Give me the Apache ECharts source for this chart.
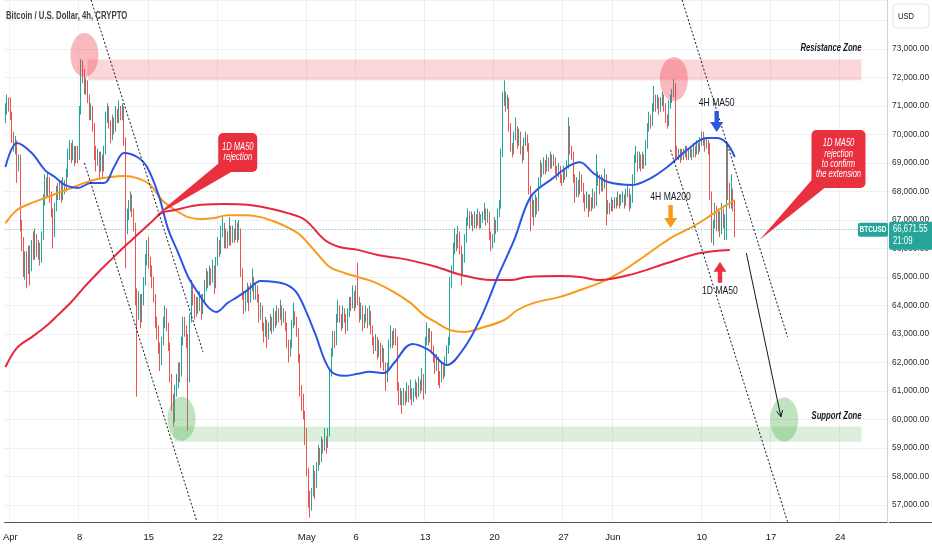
<!DOCTYPE html>
<html><head><meta charset="utf-8">
<script src="https://cdn.jsdelivr.net/npm/echarts@6/dist/echarts.min.js"></script>
<style>html,body{margin:0;padding:0;background:#fff}#c{width:932px;height:550px}</style>
</head><body><div id="c"></div>
<script>
// ---------- DATA (BTCUSD 4h, [open, close, low, high]) ----------
const ohlcMarApr = [
[70600,70900,70400,71100],[70900,71200,70700,71400],[71200,71000,70800,71300],
[71000,70700,70500,71300],[70700,69900,69700,70800],[69900,69600,69400,70100],[69600,69700,69300,69950],[69700,68900,68300,69800],[68900,69100,68700,69300],
[69100,66800,66600,69300],[66800,66200,65900,67000],[66200,65400,65000,66400],[65400,65700,64900,65900],[65700,65300,64600,65900],[65300,65900,65100,66100],
[65900,65400,64700,66100],[65400,66100,65200,66300],[66100,65800,65600,66600],[65800,66300,65600,66700],[66300,65900,65700,66500],[65900,66000,65600,66300],
[66000,65700,65400,66200],[65700,66400,65500,66600],[66400,67700,66300,67900],[67700,68300,67500,68600],[68300,68000,67800,68500],[68000,68400,67800,68700],
[68400,67800,67600,68500],[67800,67300,67100,68000],[67300,66700,66000,67400],[66700,67500,66400,67600],[67500,68000,67300,68200],[68000,67900,67700,68300],
[67900,68200,67700,68400],[68200,67800,67600,68400],[67800,68300,67700,68500],[68300,68100,67900,68400],[68100,68600,68000,68800],[68600,69300,68500,69500],
[69300,69600,69100,69800],[69600,69200,69000,69700],[69200,69500,69100,69800],[69500,69100,68900,69600],[69100,69400,69000,69600],[69400,69200,69000,69600],
[69200,70800,69100,71000],[70800,72300,70700,72650],[72300,72100,71800,72600],[72100,71600,71400,72300],[71600,71800,71400,72000],[71800,71300,71100,71900],
[71300,70700,70500,71400],[70700,70900,70500,71100],[70900,70300,70100,71000],[70300,69400,69100,70400],[69400,69100,68700,69600],[69100,69300,68900,69500],
[69300,68900,68400,69400],[68900,69200,68700,69400],[69200,68800,68500,69300],[68800,69400,68700,69600],[69400,70600,69300,70800],[70600,70900,70400,71100],
[70900,70400,70200,71000],[70400,69900,69700,70500],[69900,70500,69800,70700],[70500,70200,70000,70600],[70200,70800,70100,71000],[70800,70600,70400,70900],
[70600,70900,70400,71200],[70900,70700,70500,71000],[70700,70900,70500,71100],[70900,69800,69600,71000],[69800,66900,65300,69900],[66900,67200,66500,67400],
[67200,67500,67000,67700],[67500,67800,67300,68000],[67800,67300,67100,67900],[67300,66800,66600,67400],[66800,64400,64000,66900],[64400,63800,60800,64600],
[63800,64300,63500,64500],[64300,63600,63200,64400],[63600,64200,63400,64400],[64200,64800,64000,65000],[64800,65600,64700,65800],[65600,66000,65400,66300],
[66000,65500,65300,66400],[65500,65200,65000,65700],[65200,64900,64600,65400],[64900,64300,64100,65000],[64300,63400,63200,64400],[63400,63100,62800,63600],
[63100,62600,62300,63300],[62600,62000,61700,62700],[62000,62700,61900,62900],[62700,63400,62600,63600],[63400,63700,63200,64000],[63700,63300,63100,63900],
[63300,62600,62400,63400],[62600,61500,61300,62700],[61500,60700,60300,61600],[60700,60300,59750,60900],[60300,61000,59900,61200],[61000,61300,60800,61600],
[61300,61800,61100,62000],[61800,61600,61300,62000],[61600,62700,61500,62900],[62700,63400,62600,63600],[63400,63100,62900,63600],[63100,62800,62500,63300],
[62800,61500,59600,63000],[61500,63500,61300,63700],[63500,64600,63400,64900],[64600,64200,64000,64800],[64200,63800,63500,64400],[63800,64100,63600,64300],
[64100,63900,63700,64300],[63900,64300,63800,64500],[64300,63800,63500,64400],[63800,64200,63700,64400],[64200,64700,64100,64900],[64700,65000,64500,65300],
[65000,64800,64600,65200],[64800,65200,64700,65400],[65200,64900,64700,65300],[64900,65300,64800,65600],[65300,64700,64400,65400],[64700,65500,64600,65700],
[65500,66200,65400,66400],[66200,65900,65700,66300],[65900,66600,65800,66800],[66600,66800,66400,67100],[66800,66200,66000,66900],[66200,66500,66000,66700],
[66500,66200,66000,66600],[66200,66700,66100,67100],[66700,66300,66100,66800],[66300,66600,66200,66800],[66600,66400,66200,66700],[66400,66800,66300,67000],
[66800,66400,66200,66900],[66400,66600,66300,67000],[66600,65200,65000,66700],[65200,64400,64200,65300],[64400,64000,63700,64500],[64000,64300,63800,64500],
[64300,64600,64100,64800],[64600,64200,63800,64700],[64200,64600,64100,64800],[64600,64900,64500,65300],[64900,64400,64200,65000],[64400,64600,64200,64800],
[64600,64300,64100,64700],[64300,63600,63400,64400],[63600,63900,63500,64100],[63900,63300,63100,64000],[63300,63000,62700,63400],[63000,63400,62900,63600],
[63400,62900,62500,63500],[62900,63200,62800,63400],[63200,63500,63100,63700],[63500,63200,63000,63600],[63200,63700,63100,63900],[63700,63400,63200,63800],
[63400,63800,63300,64000],[63800,63600,63400,63900],[63600,63900,63500,64200],[63900,63500,63300,64000],[63500,63700,63400,63900],[63700,63300,63100,63800],
[63300,62700,62500,63400],[62700,62300,62000,62800],[62300,62600,62200,62800],[62600,63300,62500,63500],[63300,63700,63200,64100],[63700,63500,63300,63800],
[63500,63100,62900,63600],[63100,62200,62000,63200],[62200,61000,60800,62300],[61000,60800,60300,61200],[60800,60200,60000,60900],[60200,59600,59100,60300]
];
const ohlcMay = [
[59600,58200,58000,59700],[58200,57300,56900,58300],[57300,57000,56550,57500],[57000,57400,56800,57600],[57400,58100,57300,58400],[58100,57700,57200,58200],
[57700,58300,57600,58500],[58300,58900,58200,59100],[58900,58600,58400,59000],[58600,59200,58500,59400],[59200,59000,58800,59300],[59000,59300,58900,59700],
[59300,59100,58800,59400],[59100,59500,59000,59700],[59500,61600,59400,61800],[61600,62300,61500,62500],[62300,62900,62200,63100],[62900,62700,62500,63100],
[62700,63500,62600,63700],[63500,63900,63400,64200],[63900,63600,63400,64000],[63600,63300,63100,63700],[63300,63800,63200,64000],[63800,63600,63400,63900],
[63600,63200,63000,63700],[63200,63700,63100,63900],[63700,64100,63600,64300],[64100,64000,63800,64300],[64000,64400,63900,64700],[64400,64000,63800,64500],
[64000,64500,63900,64700],[64500,64200,64000,65500],[64200,63600,63400,64300],[63600,63900,63500,64100],[63900,63300,63100,64000],[63300,63500,63200,63700],
[63500,63800,63400,64000],[63800,63400,63200,63900],[63400,63700,63300,64000],[63700,63200,63000,63800],[63200,62800,62600,63300],[62800,62500,62300,62900],
[62500,62800,62400,63000],[62800,62300,62100,62900],[62300,62600,62200,62800],[62600,62100,61800,62700],[62100,62400,62000,62600],[62400,61900,61700,62500],
[61900,61400,61000,62000],[61400,61800,61300,62000],[61800,62600,61700,62800],[62600,63000,62500,63300],[63000,62700,62500,63100],[62700,63000,62600,63200],
[63000,62800,62600,63200],[62800,61200,61000,62900],[61200,60700,60500,61300],[60700,60900,60500,61100],[60900,60600,60200,61000],[60600,60900,60500,61100],
[60900,60700,60500,61000],[60700,61100,60600,61300],[61100,60800,60600,61200],[60800,61000,60700,61400],[61000,60700,60500,61100],[60700,60900,60600,61100],
[60900,61200,60800,61400],[61200,60900,60700,61300],[60900,61300,60800,61500],[61300,61100,60900,61400],[61100,61500,61000,61800],[61500,61000,60700,61600],
[61000,62700,60900,62900],[62700,63100,62600,63400],[63100,62800,62600,63200],[62800,63000,62700,63200],[63000,62500,62300,63100],[62500,62200,62000,62600],
[62200,61800,61600,62300],[61800,62100,61700,62300],[62100,61600,61200,62200],[61600,61400,61100,61700],[61400,61800,61300,62000],[61800,61600,61400,61900],
[61600,62000,61500,62200],[62000,62400,61900,62600],[62400,62700,62300,62900],[62700,64800,62600,65000],[64800,65200,64600,65400],[65200,66000,65100,66200],
[66000,66400,65800,66700],[66400,66100,65900,66500],[66100,66500,66000,66800],[66500,66000,65800,66600],[66000,65300,64700,66100],[65300,65600,65100,65800],
[65600,66300,65500,66500],[66300,66900,66200,67100],[66900,67200,66800,67400],[67200,66900,66700,67300],[66900,67100,66800,67300],[67100,66800,66600,67200],
[66800,67100,66700,67300],[67100,66900,66700,67200],[66900,67200,66800,67400],[67200,66900,66700,67300],[66900,67000,66700,67200],[67000,67100,66900,67300],
[67100,67300,67000,67600],[67300,67000,66800,67400],[67000,67200,66900,67400],[67200,66500,66300,67300],[66500,66100,65900,66600],[66100,66300,66000,66500],
[66300,66900,66200,67100],[66900,66700,66500,67000],[66700,67200,66600,67400],[67200,67500,67100,67700],[67500,69300,67400,69500],[69300,71200,69200,71500],
[71200,71400,71000,71900],[71400,71000,70800,71500],[71000,71200,70900,71400],[71200,70300,70100,71300],[70300,69600,69400,70400],[69600,69400,69200,69700],
[69400,69900,69300,70100],[69900,70200,69800,70600],[70200,69700,69500,70300],[69700,70000,69600,70200],[70000,69500,69300,70100],[69500,69200,69000,69600],
[69200,69700,69100,69900],[69700,69900,69600,70100],[69900,69600,69400,70000],[69600,68100,67900,69700],[68100,67300,66600,68200],[67300,67600,67100,67800],
[67600,67200,66800,67700],[67200,67700,67100,67900],[67700,67400,67200,67800],[67400,68300,67300,68500],[68300,68900,68200,69100],[68900,68700,68500,69000],
[68700,69000,68600,69200],[69000,68800,68600,69100],[68800,69100,68700,69300],[69100,68900,68700,69200],[68900,69200,68800,69400],[69200,69000,68800,69300],
[69000,69100,68900,69300],[69100,68800,68600,69200],[68800,68600,68400,68900],[68600,68800,68500,69000],[68800,68500,68300,68900],[68500,68400,68200,68600],
[68400,68700,68300,68900],[68700,68600,68400,68800],[68600,68900,68500,69100],[68900,70200,68800,70600],[70200,69500,69300,70300],[69500,69300,69100,69600],
[69300,68500,68300,69400],[68500,67900,67600,68600],[67900,68300,67800,68500],[68300,68000,67800,68400],[68000,68500,67900,68700],[68500,68200,68000,68600],
[68200,67800,67600,68300],[67800,67500,67300,67900],[67500,67800,67400,68000],[67800,67400,67100,67900],[67400,67700,67300,67900],[67700,67500,67300,67800],
[67500,67900,67400,68100],[67900,67600,67400,68000],[67600,68300,67500,69300],[68300,68500,68200,68700],[68500,68100,67900,68600],[68100,68400,68000,68600],
[68400,68200,68000,68500],[68200,68500,68100,68800],[68500,67300,66800,68600],[67300,67500,67200,67700],[67500,67400,67200,67600],[67400,67600,67300,67800]
];
const ohlcJun = [
[67600,67500,67300,67700],[67500,67700,67400,67800],[67700,67600,67400,67800],[67600,67800,67500,68000],[67800,67600,67400,67900],[67600,67700,67500,67900],
[67700,67800,67600,68000],[67800,67600,67400,67900],[67600,67900,67500,68100],[67900,68000,67800,68200],[68000,67500,67300,68100],[67500,67700,67400,67900],
[67700,68400,67600,68600],[68400,69100,68300,69300],[69100,69300,69000,69600],[69300,68900,68700,69400],[68900,69200,68800,69400],[69200,68900,68700,69300],
[68900,69200,68800,69400],[69200,69000,68800,69300],[69000,69600,68900,69800],[69600,70200,69500,70400],[70200,70600,70100,70800],[70600,70400,70200,70700],
[70400,70900,70300,71100],[70900,71300,70800,71700],[71300,71000,70800,71400],[71000,71200,70900,71400],[71200,70900,70700,71300],[70900,71100,70800,71300],
[71100,71300,71000,71500],[71300,71000,70800,71400],[71000,70600,70400,71100],[70600,70400,70200,70700],[70400,71000,70300,71200],[71000,71200,70900,71400],
[71200,71400,71100,71600],[71400,71700,71300,71950],[71700,69500,69100,71800],[69500,69300,69100,69600],[69300,69400,69100,69500],[69400,69200,69000,69500],
[69200,69400,69100,69500],[69400,69300,69100,69500],[69300,69500,69200,69600],[69500,69200,69100,69600],[69200,69300,69100,69500],[69300,69400,69200,69600],
[69400,69300,69100,69500],[69300,69500,69200,69700],[69500,69400,69200,69600],[69400,69600,69300,69800],[69600,69500,69300,69700],[69500,69700,69400,69900],
[69700,70000,69600,70100],[70000,69800,69600,70100],[69800,69600,69400,69900],[69600,69700,69500,69900],[69700,69500,69300,69800],[69500,67900,67700,69700],
[67900,66500,66200,68000],[66500,66900,66100,67000],[66900,67400,66700,67600],[67400,66800,66600,67500],[66800,67200,66600,67400],[67200,66700,66400,67300],
[66700,67300,66500,67600],[67300,66900,66700,67400],[66900,67000,66300,67200],[67000,69500,66300,69700],[69500,67900,67700,69600],[67900,67600,67400,68300],
[67600,68000,67400,68600],[68000,67500,67300,68100],[67500,66671.55,66400,67700]
];
// moving averages: [4h slot, price]
const ma50_4h = [
['2024-03-31 12:00',68860],['2024-04-01 16:00',69700],['2024-04-03 04:00',69350],['2024-04-04 12:00',68750],['2024-04-05 12:00',68510],
['2024-04-06 12:00',68230],['2024-04-07 20:00',68120],['2024-04-09 04:00',68300],['2024-04-10 12:00',68300],['2024-04-11 12:00',68860],
['2024-04-12 12:00',69350],['2024-04-13 20:00',69210],['2024-04-14 20:00',68860],['2024-04-16 00:00',67880],['2024-04-17 00:00',66650],
['2024-04-18 00:00',65840],['2024-04-19 00:00',65000],['2024-04-20 00:00',64440],['2024-04-21 00:00',63950],['2024-04-21 20:00',63770],
['2024-04-23 00:00',64090],['2024-04-24 00:00',64300],['2024-04-25 00:00',64540],['2024-04-26 08:00',64860],['2024-04-27 20:00',64820],
['2024-04-29 00:00',64720],['2024-04-30 00:00',64440],['2024-05-01 00:00',63740],['2024-05-01 20:00',63030],['2024-05-03 08:00',61740],
['2024-05-04 20:00',61530],['2024-05-06 04:00',61600],['2024-05-07 08:00',61670],['2024-05-08 20:00',61630],['2024-05-09 20:00',61980],
['2024-05-11 16:00',62650],['2024-05-13 08:00',62440],['2024-05-15 04:00',61910],['2024-05-17 00:00',62540],['2024-05-18 16:00',63600],
['2024-05-20 08:00',65000],['2024-05-22 00:00',66300],['2024-05-23 16:00',67810],['2024-05-25 16:00',68400],['2024-05-28 16:00',69030],
['2024-05-30 00:00',68650],['2024-05-31 12:00',68330],['2024-06-03 00:00',68230],['2024-06-04 20:00',68470],['2024-06-06 12:00',68860],
['2024-06-08 12:00',69460],['2024-06-10 12:00',69880],['2024-06-11 12:00',69880],['2024-06-12 12:00',69700],['2024-06-13 08:00',69210]
];
const ma200_4h = [
['2024-03-31 12:00',66890],['2024-04-01 16:00',67350],['2024-04-03 04:00',67600],['2024-04-04 12:00',67770],['2024-04-05 20:00',67950],
['2024-04-07 04:00',68120],['2024-04-08 12:00',68300],['2024-04-09 20:00',68440],['2024-04-11 04:00',68510],['2024-04-12 12:00',68540],
['2024-04-13 20:00',68470],['2024-04-15 04:00',68230],['2024-04-16 08:00',67700],['2024-04-17 16:00',67350],['2024-04-19 00:00',67100],
['2024-04-20 08:00',67030],['2024-04-21 16:00',67070],['2024-04-23 00:00',67170],['2024-04-25 00:00',67170],['2024-04-26 08:00',67100],
['2024-04-27 20:00',66930],['2024-04-29 00:00',66750],['2024-04-30 08:00',66470],['2024-05-02 00:00',65840],['2024-05-03 08:00',65350],
['2024-05-04 20:00',65140],['2024-05-06 04:00',65000],['2024-05-07 20:00',64820],['2024-05-09 20:00',64470],['2024-05-11 12:00',64090],
['2024-05-12 20:00',63670],['2024-05-14 04:00',63390],['2024-05-15 12:00',63140],['2024-05-17 00:00',63070],['2024-05-18 16:00',63210],
['2024-05-21 00:00',63490],['2024-05-22 08:00',63840],['2024-05-24 00:00',64090],['2024-05-26 16:00',64300],['2024-05-28 16:00',64540],
['2024-05-30 16:00',64790],['2024-06-01 16:00',65140],['2024-06-03 16:00',65600],['2024-06-05 12:00',66050],['2024-06-07 00:00',66400],
['2024-06-08 20:00',66720],['2024-06-10 12:00',67070],['2024-06-12 04:00',67460],['2024-06-13 08:00',67700]
];
const ma50_1d = [
['2024-03-31 12:00',61840],['2024-04-01 16:00',62510],['2024-04-03 04:00',62890],['2024-04-04 12:00',63240],['2024-04-05 20:00',63670],
['2024-04-07 04:00',64120],['2024-04-08 12:00',64650],['2024-04-09 20:00',65140],['2024-04-11 04:00',65600],['2024-04-12 12:00',66050],
['2024-04-13 20:00',66470],['2024-04-15 04:00',66890],['2024-04-16 08:00',67250],['2024-04-17 16:00',67350],['2024-04-19 00:00',67460],
['2024-04-20 08:00',67530],['2024-04-22 16:00',67560],['2024-04-25 00:00',67530],['2024-04-27 00:00',67420],['2024-04-29 00:00',67250],
['2024-04-30 20:00',67000],['2024-05-02 20:00',66300],['2024-05-04 08:00',66050],['2024-05-06 04:00',65950],['2024-05-08 04:00',65770],
['2024-05-10 04:00',65670],['2024-05-12 04:00',65530],['2024-05-14 04:00',65350],['2024-05-16 16:00',65070],['2024-05-19 16:00',64890],
['2024-05-21 16:00',64890],['2024-05-23 08:00',65000],['2024-05-26 16:00',65030],['2024-05-28 16:00',65000],['2024-05-30 16:00',64890],
['2024-06-03 00:00',65100],['2024-06-06 12:00',65490],['2024-06-09 20:00',65840],['2024-06-12 20:00',65950]
];
const xTicks = [['2024-04-01 00:00','Apr'],['2024-04-08 00:00','8'],['2024-04-15 00:00','15'],['2024-04-22 00:00','22'],
['2024-05-01 00:00','May'],['2024-05-06 00:00','6'],['2024-05-13 00:00','13'],['2024-05-20 00:00','20'],['2024-05-27 00:00','27'],
['2024-06-01 00:00','Jun'],['2024-06-10 00:00','10'],['2024-06-17 00:00','17'],['2024-06-24 00:00','24']];
const lastPrice = 66671.55;
const lastCountdown = '21:09';
// drawings anchored in (4h slot, price)
const resistanceBand = ['2024-04-08 20:00','2024-06-26 04:00',71900,72630];
const supportBand = ['2024-04-17 12:00','2024-06-26 04:00',59220,59750];
const redCircles = [['2024-04-08 12:00',72790],['2024-06-07 04:00',71950]];
const greenCircles = [['2024-04-18 08:00',60020],['2024-06-18 08:00',60000]];
const channelLines = [
 [['2024-04-08 12:00',69000],['2024-04-19 20:00',56470]],
 [['2024-04-09 04:00',74720],['2024-04-20 12:00',62370]],
 [['2024-06-08 00:00',74720],['2024-06-18 16:00',62900]],
 [['2024-06-06 20:00',69460],['2024-06-18 16:00',56420]]
];
const projectionArrow = [['2024-06-14 12:00',65840],['2024-06-18 00:00',60090]];
const zoneLabels = [['Resistance Zone','2024-06-26 04:00',73030],['Support Zone','2024-06-26 04:00',60120]];
const maNotes = [['4H MA50','2024-06-11 12:00',70090,'down'],['4H MA200','2024-06-06 20:00',66720,'down'],['1D MA50','2024-06-11 20:00',65530,'up']];
const callout1Text = ['1D MA50','rejection'];
const callout1Tip = ['2024-04-15 16:00',67140];
const callout2Text = ['1D MA50','rejection','to confirm','the extension'];
const callout2Tip = ['2024-06-15 20:00',66300];

// ---------- BUILD ----------
const ohlc = ohlcMarApr.concat(ohlcMay, ohlcJun);
const cats = [];
const t0 = Date.UTC(2024,2,31,12);
for (let k = 0; k < 536; k++) {
  cats.push(new Date(t0 + k*4*3600e3).toISOString().slice(0,13).replace('T',' ') + ':00');
}
const tickMap = new Map(xTicks);
const FONT = "'Liberation Sans','Roboto',sans-serif";
const UP = '#26a69a', DOWN = '#ef5350';
const BLUE = '#2d55e3', ORANGE = '#f99a1c', RED = '#e5283c';

const chart = echarts.init(document.getElementById('c'));
chart.setOption({
  animation: false,
  backgroundColor: '#ffffff',
  grid: {left: 0, right: 43, top: 0, bottom: 28},
  xAxis: {
    type: 'category', data: cats, boundaryGap: true,
    axisLine: {lineStyle: {color: '#50535e', width: 1}},
    axisTick: {show: false},
    axisLabel: {interval: (i, v) => tickMap.has(v), formatter: v => tickMap.get(v) || '',
      color: '#131722', fontSize: 9.5, margin: 10, fontFamily: FONT},
    splitLine: {show: true, interval: (i, v) => tickMap.has(v), lineStyle: {color: '#eef0f4', width: 1}}
  },
  yAxis: {
    type: 'value', position: 'right', min: 56400, max: 74720,
    splitNumber: 18, minInterval: 1000, maxInterval: 1000,
    axisLine: {show: true, lineStyle: {color: '#d1d4dc'}},
    axisTick: {show: false},
    axisLabel: {showMinLabel: false, showMaxLabel: false, color: '#2a2e39', fontSize: 8.3, margin: 5, fontFamily: FONT,
      formatter: v => v > 73500 ? '' : v.toLocaleString('en-US', {minimumFractionDigits: 2, maximumFractionDigits: 2})},
    splitLine: {lineStyle: {color: '#eef0f4', width: 1}}
  },
  series: [
    {type: 'candlestick', data: ohlc, barWidth: 1.2, z: 2,
     itemStyle: {color: UP, color0: DOWN, borderColor: UP, borderColor0: DOWN, borderWidth: 1},
     markLine: {silent: true, symbol: 'none', label: {show: false},
       lineStyle: {color: UP, type: [1, 2], width: 1, opacity: 0.8}, data: [{yAxis: lastPrice}]}},
    {type: 'line', data: ma200_4h, smooth: 0.35, showSymbol: false, z: 4, lineStyle: {color: ORANGE, width: 2}},
    {type: 'line', data: ma50_1d, smooth: 0.35, showSymbol: false, z: 4, lineStyle: {color: RED, width: 2}},
    {type: 'line', data: ma50_4h, smooth: 0.35, showSymbol: false, z: 5, lineStyle: {color: BLUE, width: 2}}
  ]
});

const P = (d, v) => chart.convertToPixel({gridIndex: 0}, [d, v]);
const g = [];
// narrow text: scaled horizontally around its anchor
function T(text, x, y, o) {
  g.push({type: 'text', x: x, y: y, scaleX: o.sx || 0.8, scaleY: 1, z: o.z || 14,
    style: {text: text, x: 0, y: 0, align: o.align || 'center', verticalAlign: 'middle', fontSize: o.size || 10,
      fontStyle: o.italic ? 'italic' : 'normal', fontWeight: o.bold ? 'bold' : 'normal', fontFamily: FONT, fill: o.fill || '#131722'}});
}
function band(b, fill) {
  const a = P(b[0], b[3]), c = P(b[1], b[2]);
  g.push({type: 'rect', z: 8, shape: {x: a[0], y: a[1], width: c[0]-a[0], height: c[1]-a[1]}, style: {fill}});
}
band(resistanceBand, 'rgba(242,54,69,0.2)');
band(supportBand, 'rgba(76,175,80,0.2)');
redCircles.forEach(c => { const p = P(c[0], c[1]); g.push({type: 'ellipse', z: 9, shape: {cx: p[0], cy: p[1], rx: 14, ry: 22}, style: {fill: 'rgba(242,54,69,0.35)'}}); });
greenCircles.forEach(c => { const p = P(c[0], c[1]); g.push({type: 'ellipse', z: 9, shape: {cx: p[0], cy: p[1], rx: 14, ry: 22}, style: {fill: 'rgba(76,175,80,0.35)'}}); });
channelLines.forEach(l => { const a = P(l[0][0], l[0][1]), b = P(l[1][0], l[1][1]);
  g.push({type: 'line', z: 10, shape: {x1: a[0], y1: a[1], x2: b[0], y2: b[1]}, style: {stroke: '#131722', lineWidth: 1, lineDash: [2, 2]}}); });
(function () {
  const a = P(projectionArrow[0][0], projectionArrow[0][1]), b = P(projectionArrow[1][0], projectionArrow[1][1]);
  g.push({type: 'line', z: 10, shape: {x1: a[0], y1: a[1], x2: b[0], y2: b[1]}, style: {stroke: '#131722', lineWidth: 1}});
  const ang = Math.atan2(b[1]-a[1], b[0]-a[0]), L = 7, w = 0.45;
  g.push({type: 'polyline', z: 10, shape: {points: [[b[0]-L*Math.cos(ang-w), b[1]-L*Math.sin(ang-w)], [b[0], b[1]], [b[0]-L*Math.cos(ang+w), b[1]-L*Math.sin(ang+w)]]},
    style: {stroke: '#131722', lineWidth: 1, fill: null}});
})();
zoneLabels.forEach(z => { const p = P(z[1], z[2]); T(z[0], p[0], p[1], {align: 'right', size: 11, italic: true, bold: true, sx: 0.7}); });
const noteColors = [BLUE, ORANGE, '#f0303f'];
maNotes.forEach((n, k) => {
  const p = P(n[1], n[2]), x = p[0], y = p[1], col = noteColors[k];
  const dir = n[3] === 'down' ? 1 : -1, len = k === 1 ? 23 : 21, s = 2.2, hw = 6.5, hh = 10;
  g.push({type: 'polygon', z: 12, shape: {points: [[x-s, y-dir*len], [x+s, y-dir*len], [x+s, y-dir*hh], [x+hw, y-dir*hh], [x, y], [x-hw, y-dir*hh], [x-s, y-dir*hh]]}, style: {fill: col}});
  const ty = dir === 1 ? y - len - 8 : y + len + 8;
  T(n[0], x, ty, {size: 11, sx: 0.78});
});
function callout(tip, lines, dx, dy, w, h) {
  const p = P(tip[0], tip[1]), bx = p[0] + dx, by = p[1] + dy;
  const col = '#e9303f';
  g.push({type: 'polygon', z: 13, shape: {points: [[p[0], p[1]], [bx+2, by+h-10], [bx+13, by+h]]}, style: {fill: col}});
  g.push({type: 'rect', z: 13, shape: {x: bx, y: by, width: w, height: h, r: 5}, style: {fill: col}});
  const lh = 10.3, y0 = by + h/2 - (lines.length-1)*lh/2;
  lines.forEach((t, i) => T(t, bx + w/2, y0 + i*lh, {size: 10, italic: true, fill: '#ffffff', sx: 0.76}));
}
callout(callout1Tip, callout1Text, 63, -83, 39, 39);
callout(callout2Tip, callout2Text, 52, -110, 54, 58);
// last price tags
(function () {
  const py = P(cats[ohlc.length-1], lastPrice)[1];
  g.push({type: 'rect', z: 20, shape: {x: 858, y: py-6.5, width: 30, height: 14, r: 2}, style: {fill: UP}});
  T('BTCUSD', 873, py+0.5, {size: 9, bold: true, fill: '#fff', sx: 0.72, z: 21});
  g.push({type: 'rect', z: 20, shape: {x: 889, y: py-7.5, width: 43, height: 28, r: [2, 0, 0, 2]}, style: {fill: UP}});
  T(lastPrice.toLocaleString('en-US', {minimumFractionDigits: 2}), 893, py, {align: 'left', size: 10, fill: '#fff', sx: 0.78, z: 21});
  T(lastCountdown, 893, py+11.5, {align: 'left', size: 10, fill: '#fff', sx: 0.78, z: 21});
})();
// bottom axis line continues under the price scale
(function () {
  const yb = P(cats[0], 56400)[1];
  g.push({type: 'line', z: 5, shape: {x1: 889, y1: yb + 0.5, x2: 932, y2: yb + 0.5}, style: {stroke: '#50535e', lineWidth: 1}});
})();
// header / currency box
T('Bitcoin / U.S. Dollar, 4h, CRYPTO', 6, 16, {align: 'left', size: 10.5, bold: true, fill: '#3e414b', sx: 0.74, z: 30});
g.push({type: 'rect', z: 30, shape: {x: 893, y: 4, width: 36, height: 24, r: 4}, style: {fill: '#fff', stroke: '#e0e3eb', lineWidth: 1}});
T('USD', 898, 16, {align: 'left', size: 9.5, sx: 0.8, z: 31});
chart.setOption({graphic: g});
</script></body></html>
